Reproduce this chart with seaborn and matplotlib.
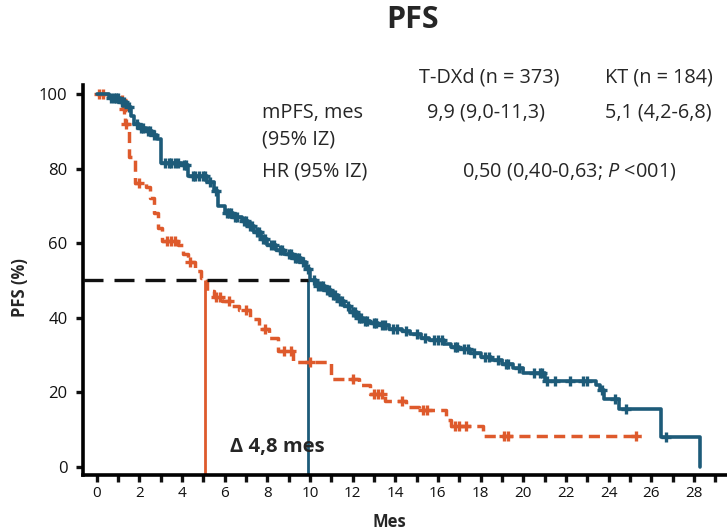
import numpy as np
import pandas as pd
import matplotlib
matplotlib.use("Agg")
import matplotlib.pyplot as plt
import seaborn as sns

# Datos (curvas de Kaplan-Meier, PFS)
tdxd_t = [0, 0.6, 1.1, 1.45, 1.6, 1.75, 2.0, 2.3, 2.6, 2.85, 3.0, 4.0, 4.3, 5.2, 5.5, 5.7,
          6.0, 6.4, 6.8, 7.1, 7.4, 7.7, 8.0, 8.4, 8.8, 9.2, 9.6, 9.8, 10.0, 10.3, 10.7,
          11.0, 11.3, 11.6, 11.9, 12.2, 12.5, 12.8, 13.2, 13.7, 14.3, 14.7, 15.2, 15.6,
          16.3, 16.6, 17.0, 17.5, 18.0, 18.5, 19.0, 19.5, 20.0, 21.0, 23.4, 23.6, 23.8,
          24.5, 26.45, 28.3]
tdxd_s = [100, 99, 98, 96.5, 94, 92, 91, 90, 89, 88, 81.5, 81, 78, 76.5, 74, 70,
          68, 67, 66, 64.5, 63, 61, 59.5, 58, 57, 56, 55, 53, 50, 48.5, 47.5,
          46, 44.5, 43, 41.5, 40, 39, 38.5, 38, 37, 36.5, 35.5, 34.5, 34,
          33, 32, 31.5, 30.5, 29.5, 28.5, 27.5, 26.5, 25, 23, 22, 20.5, 18,
          15.5, 8, 0]
tdxd_cens = [0.7, 0.8, 0.9, 1.0, 1.2, 1.3, 1.5, 1.9, 2.1, 2.2, 2.4, 2.5, 2.7, 3.2, 3.4,
             3.5, 3.7, 3.8, 4.1, 4.2, 4.5, 4.6, 4.8, 5.0, 5.1, 5.3, 5.6, 6.1, 6.2, 6.3,
             6.5, 6.6, 6.9, 7.0, 7.2, 7.3, 7.5, 7.6, 7.8, 7.9, 8.2, 8.3, 8.6, 8.7, 9.0,
             9.1, 9.3, 9.4, 9.5, 9.7, 9.9, 10.2, 10.4, 10.5, 10.6, 10.8, 10.9, 11.1,
             11.2, 11.4, 11.5, 11.8, 12.0, 12.1, 12.3, 12.4, 12.6, 12.7, 13.0, 13.1,
             13.4, 13.5, 13.9, 14.1, 14.5, 15.0, 15.4, 15.8, 16.0, 16.2, 16.8, 16.9,
             17.2, 17.4, 17.7, 18.2, 18.4, 18.8, 19.2, 19.3, 19.8, 20.5, 20.8, 20.9,
             21.1, 21.5, 22.2, 22.8, 23.0, 23.7, 24.3, 24.8, 26.7]

kt_t = [0, 0.6, 1.1, 1.25, 1.35, 1.5, 1.8, 2.3, 2.5, 2.7, 2.9, 3.05, 3.8, 4.05, 4.3,
        4.6, 4.9, 5.2, 5.5, 5.9, 6.3, 6.7, 7.2, 7.6, 8.1, 8.5, 9.2, 11.0, 12.3, 12.8,
        13.5, 14.5, 15.1, 16.4, 16.6, 18.1, 25.5]
kt_s = [100, 99, 98.5, 96, 92, 83, 76, 75, 72, 68, 64, 60.5, 59.5, 57, 55,
        52.5, 50.5, 47, 45.5, 44.5, 43, 42, 39.5, 37, 34.5, 31, 28, 23.5, 22, 19.5,
        17.5, 16, 15.2, 12.5, 10.8, 8.3, 8.3]
kt_cens = [0.1, 0.3, 1.2, 1.3, 1.4, 2.0, 3.3, 3.5, 3.7, 4.4, 5.6, 5.8, 6.2, 7.0, 7.9,
           8.8, 9.1, 10.0, 12.0, 13.0, 13.2, 13.4, 14.3, 15.3, 15.5, 16.8, 17.0, 17.3,
           19.1, 19.3, 25.3]

medianas = {"T-DXd": 9.9, "KT": 5.1}
colores = {"T-DXd": "#1d5b79", "KT": "#de5a2c"}


def valor_km(t, s, c):
    idx = np.searchsorted(t, c, side="right") - 1
    return np.array(s)[idx]


sns.set_style("ticks")
plt.rcParams["font.family"] = ["Open Sans", "DejaVu Sans"]
plt.rcParams["mathtext.fontset"] = "custom"
plt.rcParams["mathtext.it"] = "Open Sans:italic"
plt.rcParams["mathtext.rm"] = "Open Sans"

fig = plt.figure(figsize=(7.27, 5.32), dpi=100)
ax = fig.add_axes([0.114, 0.107, 0.886, 0.733])

xmin, xmax = -0.64, 29.55
ymin, ymax = -2.3, 102.4

# Curvas
df_b = pd.DataFrame({"t": tdxd_t, "s": tdxd_s})
df_o = pd.DataFrame({"t": kt_t, "s": kt_s})
sns.lineplot(data=df_o, x="t", y="s", ax=ax, drawstyle="steps-post", estimator=None,
             sort=False, color=colores["KT"], lw=2.5, linestyle=(0, (3.2, 1.8)), zorder=3)
sns.lineplot(data=df_b, x="t", y="s", ax=ax, drawstyle="steps-post", estimator=None,
             sort=False, color=colores["T-DXd"], lw=2.6, zorder=4)

# Censuras
sns.scatterplot(x=kt_cens, y=valor_km(kt_t, kt_s, kt_cens), ax=ax, marker="+",
                s=60, linewidth=2.4, color=colores["KT"], zorder=3)
sns.scatterplot(x=tdxd_cens, y=valor_km(tdxd_t, tdxd_s, tdxd_cens), ax=ax, marker="+",
                s=60, linewidth=2.4, color=colores["T-DXd"], zorder=4)

# Medianas
ax.hlines(50, xmin, medianas["T-DXd"], color="#111111", lw=2.4,
          linestyle=(0, (6, 3.3)), zorder=5)
for k in ["KT", "T-DXd"]:
    ax.vlines(medianas[k], ymin, 50, color=colores[k], lw=2.0, zorder=2)

ax.text(6.25, 5.2, "Δ 4,8 mes", fontsize=14.5, fontweight="bold", ha="left", va="center")

ax.set_xlim(xmin, xmax)
ax.set_ylim(ymin, ymax)
ax.set_xticks(np.arange(0, 30, 1))
ax.set_xticklabels([str(v) if v % 2 == 0 else "" for v in range(0, 30)])
ax.set_yticks([0, 20, 40, 60, 80, 100])
ax.tick_params(axis="x", length=5, width=2.4, labelsize=11, colors="#111111", pad=3)
ax.tick_params(axis="y", length=5, width=2.4, labelsize=12, colors="#111111", pad=6)
for sp in ["left", "bottom"]:
    ax.spines[sp].set_linewidth(2.6)
    ax.spines[sp].set_color("black")
sns.despine(ax=ax)
ax.set_xlabel("")
ax.set_ylabel("")

fig.text(0.028, 0.459, "PFS (%)", rotation=90, fontsize=12, fontweight="bold",
         ha="center", va="center")
fig.text(0.535, 0.019, "Mes", fontsize=12, fontweight="bold", ha="center", va="center")
fig.text(0.567, 0.962, "PFS", fontsize=22, fontweight="bold", ha="center", va="center")

# Tabla de resultados
fs = 14.3
fig.text(0.673, 0.855, "T-DXd (n = 373)", fontsize=fs, ha="center", va="center")
fig.text(0.906, 0.855, "KT (n = 184)", fontsize=fs, ha="center", va="center")
fig.text(0.360, 0.788, "mPFS, mes", fontsize=fs, ha="left", va="center")
fig.text(0.360, 0.737, "(95% IZ)", fontsize=fs, ha="left", va="center")
fig.text(0.669, 0.788, "9,9 (9,0-11,3)", fontsize=fs, ha="center", va="center")
fig.text(0.906, 0.788, "5,1 (4,2-6,8)", fontsize=fs, ha="center", va="center")
fig.text(0.360, 0.677, "HR (95% IZ)", fontsize=fs, ha="left", va="center")
fig.text(0.783, 0.677, "0,50 (0,40-0,63; $P$ <001)", fontsize=fs, ha="center", va="center")

fig.savefig("out.png", dpi=100)
